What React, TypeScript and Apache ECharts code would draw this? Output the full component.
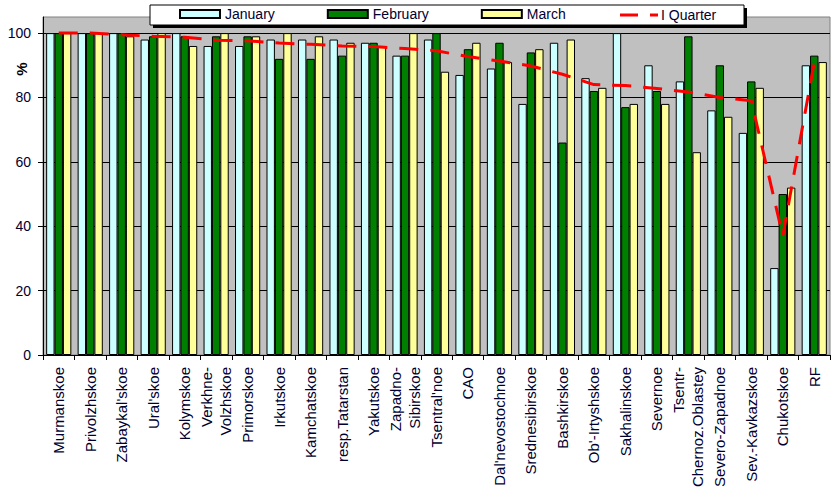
import React, { useEffect, useRef } from "react";
import * as echarts from "echarts";

const categories = [
  "Murmanskoe", "Privolzhskoe", "Zabaykal'skoe", "Ural'skoe", "Kolymskoe",
  "Verkhne-\nVolzhskoe", "Primorskoe", "Irkutskoe", "Kamchatskoe", "resp.Tatarstan",
  "Yakutskoe", "Zapadno-\nSibirskoe", "Tsentral'noe", "CAO", "Dal'nevostochnoe",
  "Srednesibirskoe", "Bashkirskoe", "Ob'-Irtyshskoe", "Sakhalinskoe", "Severnoe",
  "Tsentr-\nChernoz.Oblastey", "Severo-Zapadnoe", "Sev.-Kavkazskoe", "Chukotskoe", "RF",
];
const january = [100, 100, 100, 98, 100, 96, 96, 98, 98, 98, 97, 93, 98, 87, 89, 78, 97, 86, 100, 90, 85, 76, 69, 27, 90];
const february = [100, 100, 100, 99, 99, 99, 99, 92, 92, 93, 97, 93, 100, 95, 97, 94, 66, 82, 77, 82, 99, 90, 85, 50, 93];
const march = [100, 100, 99, 100, 96, 100, 99, 100, 99, 97, 96, 100, 88, 97, 91, 95, 98, 83, 78, 78, 63, 74, 83, 52, 91];
const quarter = [100, 100, 99.5, 99, 98.7, 97.8, 97.6, 96.9, 96.5, 96.0, 95.8, 95.2, 94.5, 92.7, 91.3, 89.8, 87.2, 84.0, 83.7, 82.8, 81.7, 80.0, 79.0, 37, 91];
const yTicks = [0, 20, 40, 60, 80, 100];

const FONT = "'Liberation Sans', Arial, sans-serif";
const TXT = "#000030";

export default function App() {
  const ref = useRef<HTMLDivElement>(null);
  useEffect(() => {
    if (!ref.current) return;
    const chart = echarts.init(ref.current, null, { renderer: "svg" });
    const barStyle = (c: string) => ({ color: c, borderColor: "#000", borderWidth: 1 });
    chart.setOption({
      animation: false,
      backgroundColor: "#fff",
      textStyle: { fontFamily: FONT },
      grid: {
        left: 43, right: 5, top: 17, bottom: 147,
        show: true, backgroundColor: "#C0C0C0", borderColor: "#808080", borderWidth: 1,
      },
      graphic: [
        { type: "rect", z: 10, shape: { x: 153, y: 8, width: 594, height: 20 }, style: { fill: "#000" } },
        { type: "rect", z: 10, shape: { x: 150, y: 5, width: 594, height: 20 }, style: { fill: "#fff", stroke: "#000", lineWidth: 1 } },
        { type: "line", z: 11, shape: { x1: 620, y1: 15, x2: 638, y2: 15 }, style: { stroke: "#FF0000", lineWidth: 3 } },
        { type: "line", z: 11, shape: { x1: 650, y1: 15, x2: 658, y2: 15 }, style: { stroke: "#FF0000", lineWidth: 3 } },
        {
          type: "text", z: 11, x: 661, y: 15,
          style: { text: "I Quarter", font: `14px ${FONT}`, fill: TXT, align: "left", verticalAlign: "middle" },
        },
        {
          type: "text", z: 10, x: 21, y: 69, rotation: Math.PI / 2,
          style: { text: "%", font: `bold 15px ${FONT}`, fill: "#000", align: "center", verticalAlign: "middle" },
        },
      ],
      legend: {
        z: 20,
        left: 179, top: 7, padding: 0,
        icon: "rect",
        itemWidth: 40, itemHeight: 8, itemGap: 52,
        textStyle: { fontSize: 14, color: TXT, fontFamily: FONT },
        data: ["January", "February", "March"],
      },
      xAxis: {
        type: "category",
        data: categories,
        boundaryGap: true,
        axisLine: { lineStyle: { color: "#000", width: 1 } },
        axisTick: { show: true, length: 5, lineStyle: { color: "#000" } },
        axisLabel: {
          interval: 0, rotate: 90, margin: 12, fontSize: 15, lineHeight: 19,
          color: TXT, fontFamily: FONT,
        },
      },
      yAxis: {
        type: "value",
        min: 0, max: 105, interval: 20,
        axisLine: { show: true, lineStyle: { color: "#000", width: 1 } },
        axisTick: { show: true, length: 5, lineStyle: { color: "#000" } },
        axisLabel: {
          margin: 12, fontSize: 14, color: TXT, fontFamily: FONT, showMaxLabel: false,
          formatter: (v: number) => (yTicks.includes(v) ? String(v) : ""),
        },
        splitLine: { show: true, showMaxLine: false, lineStyle: { color: "#000", width: 1 } },
      },
      series: [
        { name: "January", type: "bar", data: january, itemStyle: barStyle("#CCFFFF"), barGap: "0%", barCategoryGap: "20%" },
        { name: "February", type: "bar", data: february, itemStyle: barStyle("#008000"), barGap: "0%", barCategoryGap: "20%" },
        { name: "March", type: "bar", data: march, itemStyle: barStyle("#FFFF99"), barGap: "0%", barCategoryGap: "20%" },
        {
          name: "I Quarter", type: "line", data: quarter, symbol: "none", z: 5,
          lineStyle: { color: "#FF0000", width: 3, type: [19, 12] },
          itemStyle: { color: "#FF0000" },
        },
      ],
    });
    return () => chart.dispose();
  }, []);
  return (
    <div
      ref={ref}
      style={{ position: "fixed", left: 0, top: 0, width: 835, height: 502, background: "#fff" }}
    />
  );
}
